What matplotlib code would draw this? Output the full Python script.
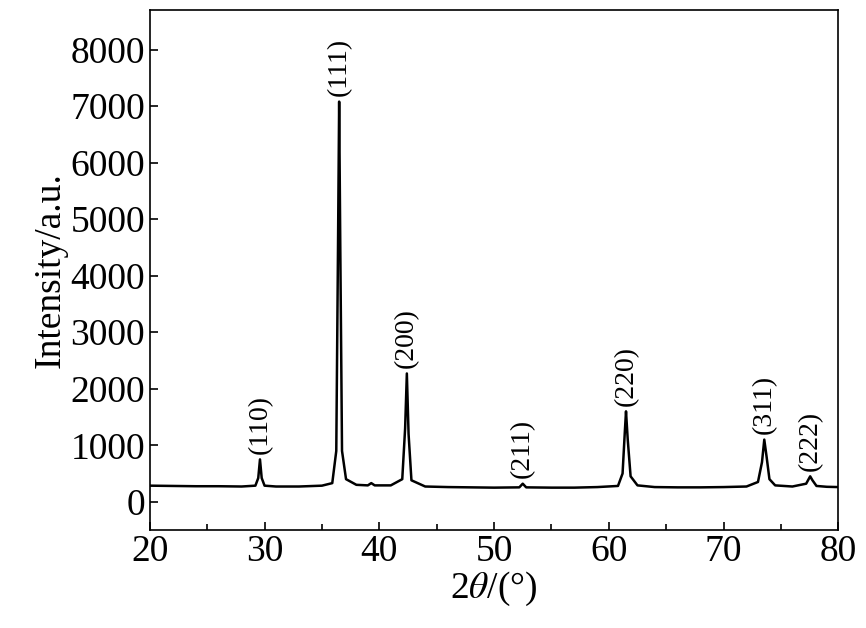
import matplotlib.pyplot as plt

# points (2theta, intensity)
two_theta = [20, 22, 24, 26, 28, 29.2, 29.45, 29.6, 29.75, 30.0, 31, 33, 35, 35.9, 36.25, 36.4, 36.5, 36.6, 36.75, 37.1, 38, 39.0, 39.3, 39.6,
             41, 42.0, 42.25, 42.4, 42.55, 42.8, 44, 46, 48, 50, 52.2, 52.5, 52.8, 55, 57, 59, 60.8, 61.2, 61.4, 61.5, 61.65, 61.9, 62.5,
             64, 66, 68, 70, 72, 73.0, 73.35, 73.55, 73.75, 74.0, 74.5, 76, 77.2, 77.55, 77.75, 78.1, 79, 80]
intensity = [285, 280, 275, 275, 270, 285, 420, 750, 420, 285, 270, 270, 285, 330, 900, 4500, 7080, 4500, 900, 400, 300, 290, 330, 290,
             290, 400, 1300, 2270, 1200, 380, 270, 260, 255, 250, 255, 320, 255, 250, 250, 260, 280, 500, 1250, 1600, 1100, 450, 290,
             260, 255, 255, 260, 270, 350, 700, 1100, 800, 400, 290, 270, 320, 450, 380, 280, 265, 260]

peak_x = [29.6, 36.5, 42.4, 52.5, 61.5, 73.6, 77.6]
peak_y = [750, 7080, 2270, 320, 1600, 1100, 450]
peak_labels = ['(110)', '(111)', '(200)', '(211)', '(220)', '(311)', '(222)']

plt.rcParams['font.family'] = ['Liberation Serif', 'DejaVu Serif']
plt.rcParams['mathtext.fontset'] = 'stix'
fig = plt.figure(figsize=(8.66, 6.28), dpi=100)
ax = fig.add_axes([0.173, 0.156, 0.795, 0.828])
ax.plot(two_theta, intensity, color='black', lw=1.8)

for x, y, lab in zip(peak_x, peak_y, peak_labels):
    ax.text(x, y + 100, lab, rotation=90, ha='center', va='bottom', fontsize=20)

ax.set_xlim(20, 80)
ax.set_ylim(-500, 8700)
ax.set_xticks(range(20, 81, 10))
ax.set_xticks(range(25, 80, 10), minor=True)
ax.set_yticks(range(0, 8001, 1000))
ax.tick_params(direction='in', labelsize=27, length=6, width=1.2)
ax.tick_params(which='minor', direction='in', length=4, width=1.2)
for s in ax.spines.values():
    s.set_linewidth(1.2)
ax.set_xlabel(r'2$\theta$/(°)', fontsize=27, labelpad=0)
ax.set_ylabel('Intensity/a.u.', fontsize=27, labelpad=2)
fig.savefig('out.png')
